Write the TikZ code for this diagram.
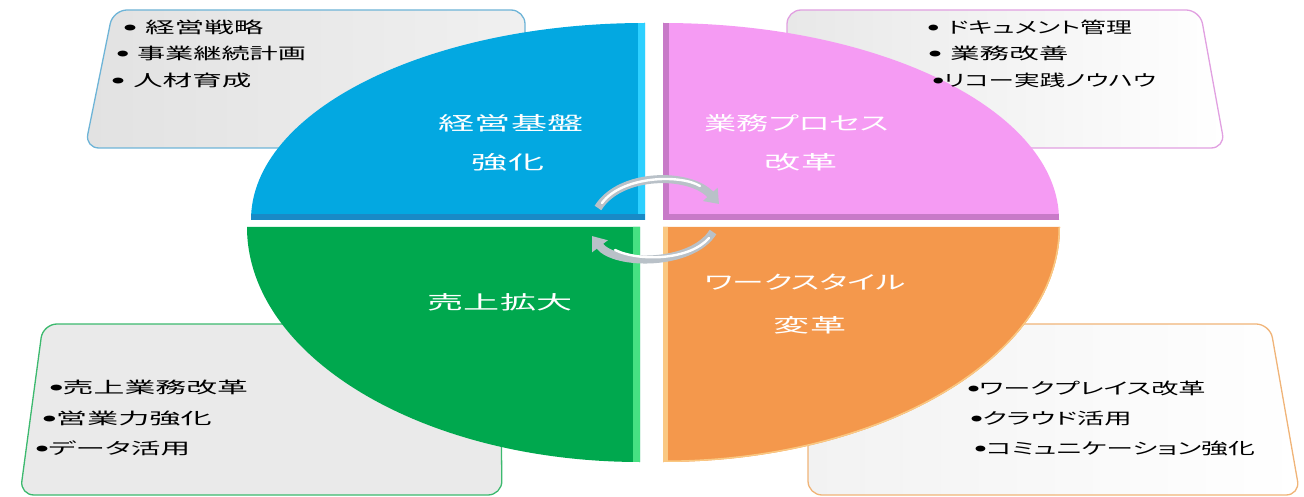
\documentclass[tikz,border=0pt]{standalone}
\usepackage{fontspec}
\usepackage{graphicx}
\usetikzlibrary{arrows.meta}
\newfontfamily\jp[RawFeature=+palt]{Noto Sans CJK JP}
\newcommand\mybul{\raisebox{3pt}{\fontsize{6.5}{6.5}\selectfont ●}}
\definecolor{qblue}{RGB}{3,168,225}
\definecolor{qbluedark}{RGB}{25,138,198}
\definecolor{qbluelight}{RGB}{45,208,255}
\definecolor{qpink}{RGB}{245,155,243}
\definecolor{qpinkdark}{RGB}{200,122,200}
\definecolor{qgreen}{RGB}{0,168,78}
\definecolor{qgreenlight}{RGB}{70,225,130}
\definecolor{qorange}{RGB}{244,152,76}
\definecolor{qorangelight}{RGB}{250,200,130}
\definecolor{cardtl}{RGB}{110,180,215}
\definecolor{cardtr}{RGB}{225,160,225}
\definecolor{cardbl}{RGB}{60,185,110}
\definecolor{cardbr}{RGB}{240,180,120}
\definecolor{silver}{RGB}{185,193,200}
\definecolor{silverdark}{RGB}{130,138,145}
\tikzset{
  item/.style={anchor=west, inner sep=0pt, font=\jp\fontsize{16}{16}\selectfont, text=black},
  qlabel/.style={inner sep=0pt, font=\jp\fontsize{19}{19}\selectfont, text=white},
  card/.style={rounded corners=14pt, line width=1.3pt},
  cyclearrow/.style={line width=8pt, draw=silver, -{Triangle[length=13pt,width=19pt]}},
  shine/.style={line width=2.4pt, draw=white, line cap=round},
}
\begin{document}
\begin{tikzpicture}[x=1pt,y=-1pt]
\useasboundingbox (0,0) rectangle (1304,497);
% cards
\draw[card, draw=cardtl, left color={rgb,255:red,226;green,226;blue,226}, right color={rgb,255:red,240;green,240;blue,240}]
  (113,10) -- (525,10) -- (525,148) -- (85,148) -- cycle;
\draw[card, draw=cardtr, left color={rgb,255:red,232;green,232;blue,232}, right color=white]
  (787,10) -- (1200,10) -- (1225,148) -- (787,148) -- cycle;
\draw[card, draw=cardbl, fill={rgb,255:red,234;green,234;blue,234}]
  (43,324) -- (500,324) -- (502,495) -- (20,495) -- cycle;
\draw[card, draw=cardbr, left color={rgb,255:red,242;green,242;blue,242}, right color=white]
  (808,324) -- (1270,324) -- (1300,495) -- (808,495) -- cycle;
% quadrants
\fill[qblue] (645,220) -- (251,220) arc[start angle=180, end angle=270, x radius=394, y radius=197] -- cycle;
\begin{scope}
  \clip (645,220) -- (251,220) arc[start angle=180, end angle=270, x radius=394, y radius=197] -- cycle;
  \fill[qbluelight] (638,0) rectangle (645,230);
  \fill[qbluedark] (240,214) rectangle (645,220);
\end{scope}
\fill[qpink] (663,220) -- (663,23) arc[start angle=270, end angle=360, x radius=396, y radius=197] -- cycle;
\begin{scope}
  \clip (663,220) -- (663,23) arc[start angle=270, end angle=360, x radius=396, y radius=197] -- cycle;
  \fill[qpinkdark] (663,0) rectangle (669,230);
  \fill[qpinkdark] (663,214) rectangle (1070,220);
\end{scope}
\fill[qorange] (663,227) -- (1060,227) arc[start angle=0, end angle=90, x radius=397, y radius=235] -- cycle;
\begin{scope}
  \clip (663,227) -- (1060,227) arc[start angle=0, end angle=90, x radius=397, y radius=235] -- cycle;
  \fill[qorangelight] (663,220) rectangle (668,470);
  \draw[qorangelight, line width=3pt] (1060,227) arc[start angle=0, end angle=90, x radius=397, y radius=235];
\end{scope}
\fill[qgreen] (640,227) -- (640,462) arc[start angle=90, end angle=180, x radius=393, y radius=235] -- cycle;
\begin{scope}
  \clip (640,227) -- (640,462) arc[start angle=90, end angle=180, x radius=393, y radius=235] -- cycle;
  \fill[qgreenlight] (633,220) rectangle (640,470);
\end{scope}
% labels
\node[qlabel] (l1a) at (511,123) {\scalebox{1.9}[1]{経営基盤}};
\node[qlabel] (l1b) at (508,162) {\scalebox{1.9}[1]{強化}};
\node[qlabel] (l2a) at (797,123) {\scalebox{1.69}[1]{業務プロセス}};
\node[qlabel] (l2b) at (801,162) {\scalebox{1.9}[1]{改革}};
\node[qlabel] (l3a) at (500,302) {\scalebox{1.9}[1]{売上拡大}};
\node[qlabel] (l4a) at (805,282) {\scalebox{1.67}[1]{ワークスタイル}};
\node[qlabel] (l4b) at (810,325) {\scalebox{1.9}[1]{変革}};
% lists
\node[item] (tl1) at (124,27) {\scalebox{1.85}[1]{\mybul\hspace{0.3em}経営戦略}};
\node[item] (tl2) at (117,53) {\scalebox{1.76}[1]{\mybul\hspace{0.3em}事業継続計画}};
\node[item] (tl3) at (112,80) {\scalebox{1.85}[1]{\mybul\hspace{0.3em}人材育成}};
\node[item] (tr1) at (928,27) {\scalebox{1.62}[1]{\mybul\hspace{0.35em}ドキュメント管理}};
\node[item] (tr2) at (929,53) {\scalebox{1.85}[1]{\mybul\hspace{0.3em}業務改善}};
\node[item] (tr3) at (933,80) {\scalebox{1.6}[1]{\mybul リコー実践ノウハウ}};
\node[item] (bl1) at (50,387) {\scalebox{1.93}[1]{\mybul 売上業務改革}};
\node[item] (bl2) at (43,418) {\scalebox{1.95}[1]{\mybul 営業力強化}};
\node[item] (bl3) at (36,448) {\scalebox{1.85}[1]{\mybul データ活用}};
\node[item] (br1) at (968,388) {\scalebox{1.7}[1]{\mybul ワークプレイス改革}};
\node[item] (br2) at (971,418) {\scalebox{1.71}[1]{\mybul クラウド活用}};
\node[item] (br3) at (975,448) {\scalebox{1.68}[1]{\mybul コミュニケーション強化}};
% cycle arrows
\coordinate (a1s) at (598,208);
\coordinate (a1e) at (719,204);
\coordinate (a2s) at (713,232);
\coordinate (a2e) at (592,236);
\draw[cyclearrow] (a1s) .. controls (620,172) and (690,172) .. (a1e);
\draw[shine] (602,203) .. controls (622,176) and (680,174) .. (700,186);
\draw[cyclearrow] (a2s) .. controls (692,266) and (615,266) .. (a2e);
\draw[shine] (709,238) .. controls (690,260) and (640,262) .. (615,250);
\end{tikzpicture}
\end{document}
